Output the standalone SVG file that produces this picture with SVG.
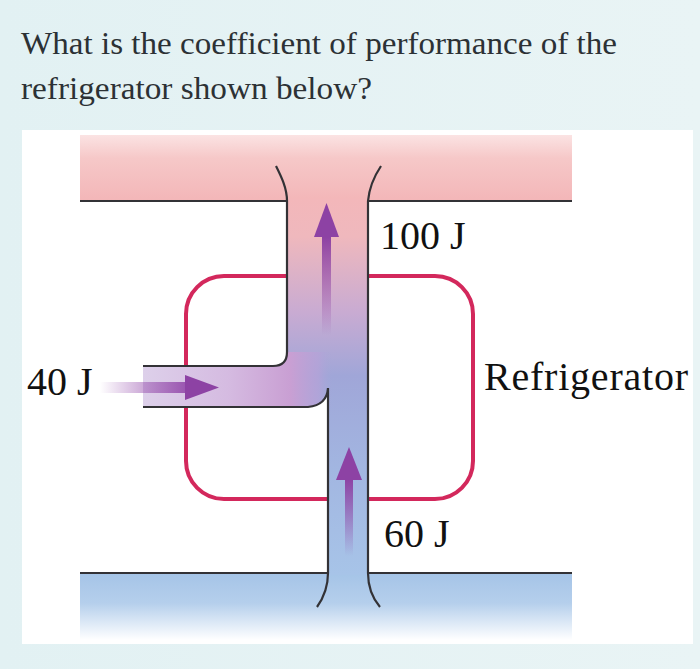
<svg xmlns="http://www.w3.org/2000/svg" width="700" height="669" viewBox="0 0 700 669">
  <defs>
    <linearGradient id="bg" x1="0" y1="0" x2="1" y2="0">
      <stop offset="0" stop-color="#e2f1f3"/>
      <stop offset="1" stop-color="#e9f4f5"/>
    </linearGradient>
    <linearGradient id="hot" x1="0" y1="135" x2="0" y2="201" gradientUnits="userSpaceOnUse">
      <stop offset="0" stop-color="#fbe3e3"/>
      <stop offset="0.35" stop-color="#f6c8c8"/>
      <stop offset="1" stop-color="#f3b6b8"/>
    </linearGradient>
    <linearGradient id="cold" x1="0" y1="573" x2="0" y2="640" gradientUnits="userSpaceOnUse">
      <stop offset="0" stop-color="#a5c4e7"/>
      <stop offset="0.45" stop-color="#b5cfec"/>
      <stop offset="1" stop-color="#ffffff"/>
    </linearGradient>
    <linearGradient id="gV" x1="0" y1="199" x2="0" y2="575" gradientUnits="userSpaceOnUse">
      <stop offset="0" stop-color="#f3b7ba"/>
      <stop offset="0.1" stop-color="#efb8bd"/>
      <stop offset="0.3" stop-color="#c9abd2"/>
      <stop offset="0.47" stop-color="#a0a6d8"/>
      <stop offset="0.72" stop-color="#a2b6e1"/>
      <stop offset="1" stop-color="#a7c4e8"/>
    </linearGradient>
    <linearGradient id="gH" x1="143" y1="0" x2="332" y2="0" gradientUnits="userSpaceOnUse">
      <stop offset="0" stop-color="#ddd0ea"/>
      <stop offset="0.45" stop-color="#d5bbe1"/>
      <stop offset="0.78" stop-color="#c99fd3"/>
      <stop offset="0.93" stop-color="#b6a2d8" stop-opacity="0.7"/>
      <stop offset="1" stop-color="#a8a6d8" stop-opacity="0"/>
    </linearGradient>
    <linearGradient id="shaftUp1" x1="0" y1="237" x2="0" y2="335" gradientUnits="userSpaceOnUse">
      <stop offset="0" stop-color="#8d42a4"/>
      <stop offset="1" stop-color="#8d42a4" stop-opacity="0"/>
    </linearGradient>
    <linearGradient id="shaftUp2" x1="0" y1="478" x2="0" y2="556" gradientUnits="userSpaceOnUse">
      <stop offset="0" stop-color="#8d42a4"/>
      <stop offset="1" stop-color="#8d42a4" stop-opacity="0"/>
    </linearGradient>
    <linearGradient id="shaftH" x1="100" y1="0" x2="187" y2="0" gradientUnits="userSpaceOnUse">
      <stop offset="0" stop-color="#9a55b0" stop-opacity="0"/>
      <stop offset="1" stop-color="#9a55b0"/>
    </linearGradient>
    <clipPath id="chanClip">
      <path d="M287,199 V352 Q287,366 273,366 H143 V407 H308 Q327,405 328,388 V575 H368 V199 Z"/>
    </clipPath>
  </defs>
  <style>
    .edge { fill: none; stroke: #333236; stroke-width: 2.2; }
    .loop { fill: none; stroke: #d3285c; stroke-width: 4; }
    .lbl { font-family: "Liberation Serif", "Times New Roman", serif; font-size: 40px; fill: #111; }
    .q { font-family: "Liberation Serif", "Times New Roman", serif; font-size: 31px; fill: #2c3135; }
    .head { fill: #8d42a4; }
  </style>

  <rect x="0" y="0" width="700" height="669" fill="url(#bg)"/>
  <g id="question">
    <text class="q" x="21" y="54" textLength="596" lengthAdjust="spacingAndGlyphs">What is the coefficient of performance of the</text>
    <text class="q" x="21" y="99" textLength="351" lengthAdjust="spacingAndGlyphs">refrigerator shown below?</text>
  </g>
  <rect x="22" y="130" width="671" height="514" fill="#ffffff"/>

  <g id="hot-reservoir">
    <rect x="80" y="135" width="492" height="66" fill="url(#hot)"/>
    <path class="edge" d="M80,201 H287 M368,201 H572"/>
  </g>

  <g id="cold-reservoir">
    <rect x="80" y="573" width="492" height="68" fill="url(#cold)"/>
    <path class="edge" d="M80,573 H328 M368,573 H572"/>
  </g>

  <g id="refrigerator">
    <rect class="loop" x="186" y="276" width="287" height="223" rx="38" ry="38"/>
  </g>

  <g id="connectors">
    <g id="energy-channel">
      <path d="M287,199 V352 Q287,366 273,366 H143 V407 H308 Q327,405 328,388 V575 H368 V199 Z" fill="url(#gV)"/>
      <rect x="143" y="352" width="190" height="55" fill="url(#gH)" clip-path="url(#chanClip)"/>
      <path class="edge" d="M276,166 C281,176 287,188 287,201 V352 Q287,366 273,366 H143"/>
      <path class="edge" d="M143,407 H308 Q327,405 328,388 V573 C328,590 322,600 317,607"/>
      <path class="edge" d="M381,166 C373,178 369,190 368,201 V573 C368,590 374,600 380,607"/>
    </g>
    <g id="arrow-100J">
      <rect x="322" y="236" width="9" height="99" fill="url(#shaftUp1)"/>
      <polygon class="head" points="326.5,203 339,237 314,237"/>
    </g>
    <g id="arrow-60J">
      <rect x="345" y="479" width="8" height="77" fill="url(#shaftUp2)"/>
      <polygon class="head" points="349,447 362,480 336,480"/>
    </g>
    <g id="arrow-40J">
      <rect x="100" y="382" width="87" height="11" fill="url(#shaftH)"/>
      <polygon class="head" points="219,387.5 185,375 185,400" fill="#9347aa"/>
    </g>
  </g>

  <g id="labels">
    <text class="lbl" x="380" y="249">100 J</text>
    <text class="lbl" x="384" y="547">60 J</text>
    <text class="lbl" x="27" y="395">40 J</text>
    <text class="lbl" x="484" y="390" textLength="204">Refrigerator</text>
  </g>
</svg>
